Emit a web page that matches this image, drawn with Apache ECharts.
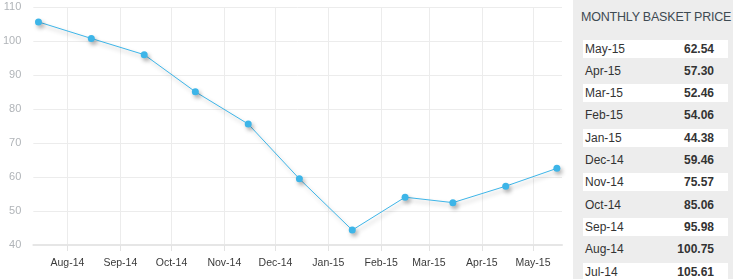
<!DOCTYPE html>
<html>
<head>
<meta charset="utf-8">
<script src="https://cdn.jsdelivr.net/npm/echarts@6/dist/echarts.min.js"></script>
<style>
  html, body { margin: 0; padding: 0; background: #fff; }
  #wrap { position: relative; width: 733px; height: 279px; overflow: hidden; font-family: "Liberation Sans", Arial, sans-serif; }
  #chart { position: absolute; left: 0; top: 0; width: 733px; height: 279px; }
  #panel { position: absolute; left: 573px; top: 0; width: 160px; height: 279px; background: #ededed; }
  #title { position: absolute; left: 8px; top: 10px; font-size: 12.5px; color: #3e4a52; white-space: nowrap; letter-spacing: -0.2px; }
  .row { position: absolute; left: 10px; width: 145px; height: 18px; line-height: 18px; font-size: 12px; color: #333; }
  .row.white { background: #fff; }
  .row .lab { position: absolute; left: 2px; top: 0; }
  .row .val { position: absolute; right: 14px; top: 0; font-weight: bold; }
</style>
</head>
<body>
<div id="wrap">
  <div id="chart"></div>
  <div id="panel"><div id="title">MONTHLY BASKET PRICE</div></div>
</div>
<script>
// Months of the data (year, month index 0-11), point placed mid-month
const months = ["Jul-14","Aug-14","Sep-14","Oct-14","Nov-14","Dec-14","Jan-15","Feb-15","Mar-15","Apr-15","May-15"];
const monthYears = [2014,2014,2014,2014,2014,2014,2015,2015,2015,2015,2015];
const monthIdx = [6,7,8,9,10,11,0,1,2,3,4];
const prices = [105.61, 100.75, 95.98, 85.06, 75.57, 59.46, 44.38, 54.06, 52.46, 57.30, 62.54];
const priceLabels = ["105.61","100.75","95.98","85.06","75.57","59.46","44.38","54.06","52.46","57.30","62.54"];
// x-axis tick labels (placed at first day of each month)
const tickLabels = ["Aug-14","Sep-14","Oct-14","Nov-14","Dec-14","Jan-15","Feb-15","Mar-15","Apr-15","May-15"];
const tickYears = [2014,2014,2014,2014,2014,2015,2015,2015,2015,2015];
const tickMonths = [7,8,9,10,11,0,1,2,3,4];
const yTicks = [40, 50, 60, 70, 80, 90, 100, 110];

const DAY = 86400000;
const t0 = Date.UTC(2014, 6, 1);
const dayNum = (y, m, d) => (Date.UTC(y, m, d) - t0) / DAY;
const tickValues = tickYears.map((y, i) => dayNum(y, tickMonths[i], 1));
const seriesData = prices.map((v, i) => [dayNum(monthYears[i], monthIdx[i], 15), v]);
const labelMap = {};
tickValues.forEach((t, i) => { labelMap[t] = tickLabels[i]; });

const chart = echarts.init(document.getElementById('chart'), null, { renderer: 'canvas' });
chart.setOption({
  animation: false,
  grid: { left: 33, right: 171, top: 7, bottom: 34, containLabel: false },
  xAxis: {
    type: 'value',
    min: dayNum(2014, 6, 12),
    max: dayNum(2015, 4, 18),
    axisLine: { show: true, lineStyle: { color: '#e6e6e6', width: 2 } },
    axisTick: { show: true, length: 6, lineStyle: { color: '#e3e3e3' }, customValues: tickValues },
    axisLabel: {
      customValues: tickValues,
      showMinLabel: true, showMaxLabel: true, hideOverlap: false,
      color: '#3a3a3a', fontSize: 10.5, margin: 13,
      fontFamily: 'Liberation Sans, Arial, sans-serif',
      formatter: function (v) { return labelMap[v] || ''; }
    },
    splitLine: { show: true, lineStyle: { color: '#ececec', width: 1 } }
  },
  yAxis: {
    type: 'value',
    min: yTicks[0], max: yTicks[yTicks.length - 1], interval: 10,
    axisLine: { show: false }, axisTick: { show: false },
    axisLabel: { color: '#b0b4b8', fontSize: 11, margin: 12, fontFamily: 'Liberation Sans, Arial, sans-serif' },
    splitLine: { show: true, lineStyle: { color: '#ececec', width: 1 } }
  },
  series: [{
    type: 'line',
    data: seriesData,
    symbol: 'circle',
    symbolSize: 7,
    showAllSymbol: true,
    lineStyle: { color: '#3db5e8', width: 1, shadowColor: 'rgba(0,0,0,0.3)', shadowBlur: 4, shadowOffsetX: 2, shadowOffsetY: 3 },
    itemStyle: { color: '#3db5e8', shadowColor: 'rgba(0,0,0,0.3)', shadowBlur: 4, shadowOffsetX: 2, shadowOffsetY: 3 }
  }]
});

// Table of monthly prices (most recent first)
const panel = document.getElementById('panel');
for (let k = 0; k < months.length; k++) {
  const i = months.length - 1 - k;
  const row = document.createElement('div');
  row.className = 'row' + (k % 2 === 0 ? ' white' : '');
  row.style.top = (39.5 + k * 22.3) + 'px';
  const lab = document.createElement('span'); lab.className = 'lab'; lab.textContent = months[i];
  const val = document.createElement('span'); val.className = 'val'; val.textContent = priceLabels[i];
  row.appendChild(lab); row.appendChild(val);
  panel.appendChild(row);
}
</script>
</body>
</html>
